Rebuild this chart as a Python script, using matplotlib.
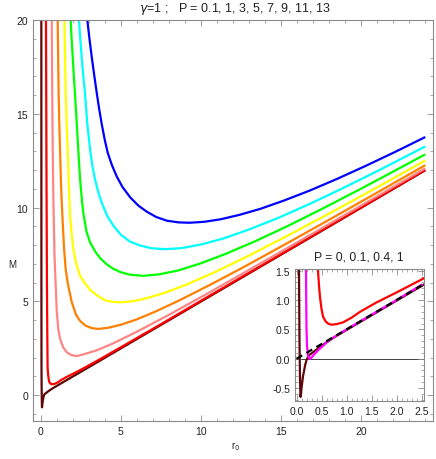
import matplotlib
matplotlib.use("Agg")
import matplotlib.pyplot as plt
from matplotlib.ticker import MultipleLocator, FormatStrFormatter

plt.rcParams['font.family'] = ['Liberation Sans', 'DejaVu Sans']
plt.rcParams['font.size'] = 7.5

# curves, M(r0) for each P
r_p01 = [0.035, 0.04, 0.045, 0.05, 0.06, 0.07, 0.08, 0.09, 0.1, 0.13, 0.17, 0.2, 0.25, 0.33, 0.45, 0.6, 0.8, 1.0, 1.5, 2.0, 2.5, 5.0, 10.0, 24.0]
m_p01 = [30, 20, 5.0, 1.5, 0.3, -0.35, -0.65, -0.6, -0.5, -0.3, -0.12, -0.02, 0.06, 0.11, 0.19, 0.28, 0.39, 0.49, 0.74, 0.99, 1.24, 2.49, 4.99, 11.99]

r_p1 = [0.3, 0.33, 0.36, 0.39, 0.41, 0.43, 0.45, 0.47, 0.5, 0.53, 0.58, 0.63, 0.7, 0.8, 0.93, 1.1, 1.27, 1.6, 2.0, 2.5, 3.5, 5.0, 7.5, 10.0, 14.0, 18.0, 24.0]
m_p1 = [30, 20, 12, 6.0, 3.5, 1.5, 1.25, 1.05, 0.85, 0.72, 0.64, 0.6, 0.58, 0.59, 0.62, 0.7, 0.8, 0.96, 1.13, 1.35, 1.82, 2.55, 3.78, 5.03, 7.02, 9.01, 12.01]

r_p3 = [0.65, 0.69, 0.72, 0.75, 0.8, 0.86, 0.92, 1.0, 1.1, 1.21, 1.4, 1.63, 1.9, 2.25, 2.7, 3.5, 4.5, 6.0, 8.0, 10.5, 13.5, 17.0, 20.5, 24.0]
m_p3 = [22, 20.0, 16.0, 13.0, 10.0, 7.5, 6.2, 4.5, 3.5, 3.0, 2.55, 2.28, 2.14, 2.08, 2.18, 2.39, 2.75, 3.38, 4.28, 5.46, 6.92, 8.63, 10.36, 12.09]

r_p5 = [1.0, 1.06, 1.09, 1.12, 1.16, 1.21, 1.27, 1.35, 1.46, 1.56, 1.7, 1.94, 2.2, 2.46, 2.8, 3.2, 3.6, 4.2, 5.0, 6.0, 7.2, 8.6, 10.5, 12.5, 15.0, 18.0, 21.0, 24.0]
m_p5 = [22, 20.0, 18.0, 16.05, 14.5, 13.0, 11.2, 9.6, 7.8, 6.7, 5.9, 4.95, 4.3, 3.95, 3.7, 3.57, 3.53, 3.59, 3.75, 4.04, 4.47, 5.03, 5.85, 6.75, 7.92, 9.35, 10.8, 12.26]

r_p7 = [1.4, 1.48, 1.52, 1.56, 1.62, 1.69, 1.75, 1.83, 1.93, 2.04, 2.2, 2.46, 2.77, 3.1, 3.5, 4.0, 4.5, 5.0, 5.7, 6.6, 7.8, 9.2, 11.0, 13.0, 15.5, 18.0, 21.0, 24.0]
m_p7 = [22, 20.0, 18.0, 16.05, 14.5, 13.0, 11.3, 9.6, 8.6, 7.8, 7.05, 6.35, 5.95, 5.6, 5.33, 5.06, 4.97, 4.95, 5.0, 5.16, 5.47, 5.93, 6.61, 7.44, 8.54, 9.68, 11.08, 12.51]

r_p9 = [1.75, 1.87, 1.93, 2.0, 2.07, 2.14, 2.25, 2.35, 2.46, 2.56, 2.66, 2.85, 3.08, 3.4, 3.71, 4.1, 4.54, 5.0, 5.58, 6.4, 7.4, 8.6, 10.0, 11.6, 13.4, 15.4, 17.6, 20.0, 22.0, 24.0]
m_p9 = [22, 20.0, 19.0, 18.0, 17.0, 16.05, 14.5, 13.0, 11.5, 10.5, 9.7, 8.75, 8.14, 7.66, 7.3, 6.99, 6.73, 6.55, 6.42, 6.36, 6.44, 6.65, 7.03, 7.55, 8.21, 9.01, 9.95, 11.01, 11.92, 12.84]

r_p11 = [2.25, 2.39, 2.47, 2.56, 2.66, 2.77, 2.91, 3.08, 3.22, 3.39, 3.6, 3.81, 4.15, 4.54, 5.0, 5.58, 6.2, 6.9, 7.8, 8.8, 10.0, 11.4, 13.0, 14.8, 16.8, 18.8, 21.0, 24.0]
m_p11 = [22, 20.0, 19.0, 18.0, 17.0, 16.05, 14.45, 13.1, 12.25, 11.5, 10.8, 10.25, 9.55, 9.03, 8.55, 8.18, 7.98, 7.83, 7.78, 7.84, 8.03, 8.35, 8.83, 9.44, 10.2, 11.01, 11.94, 13.26]

r_p13 = [2.75, 2.91, 3.05, 3.19, 3.35, 3.5, 3.65, 3.81, 4.0, 4.19, 4.45, 4.75, 5.1, 5.58, 6.1, 6.62, 7.2, 7.87, 8.6, 9.3, 10.2, 11.2, 12.4, 13.7, 15.2, 16.8, 18.5, 20.3, 22.1, 24.0]
m_p13 = [22, 20.0, 18.95, 18.0, 17.0, 16.1, 15.25, 14.45, 13.6, 12.9, 12.25, 11.65, 11.1, 10.55, 10.1, 9.78, 9.5, 9.3, 9.21, 9.19, 9.24, 9.37, 9.61, 9.93, 10.38, 10.91, 11.53, 12.23, 12.96, 13.76]

# inset only
r_p04 = [0.185, 0.19, 0.195, 0.2, 0.21, 0.23, 0.25, 0.27, 0.3, 0.37, 0.45, 0.53, 0.6, 0.7, 1.0, 1.5, 2.0, 2.5]
m_p04 = [3.0, 1.5, 0.9, 0.5, 0.22, 0.06, 0.01, 0.0, 0.02, 0.09, 0.16, 0.22, 0.28, 0.34, 0.5, 0.75, 1.0, 1.26]
r_p0 = [0.0, 0.5, 1.0, 1.5, 2.0, 2.5]
m_p0 = [0.0, 0.25, 0.5, 0.75, 1.0, 1.25]

main_curves = [(r_p01, m_p01, '#5c0606'), (r_p1, m_p1, '#ff0000'), (r_p3, m_p3, '#ff8585'),
               (r_p5, m_p5, '#ff8000'), (r_p7, m_p7, '#ffff00'), (r_p9, m_p9, '#00ff00'),
               (r_p11, m_p11, '#00ffff'), (r_p13, m_p13, '#0000ff')]

fig = plt.figure(figsize=(4.36, 4.60), dpi=100)
ax = fig.add_axes([33/436, 38/460, 400/436, 401/460])
for r, m, c in main_curves:
    ax.plot(r, m, color=c, lw=1.6, solid_capstyle='butt')
ax.set_xlim(-0.48, 24.48)
ax.set_ylim(-1.38, 20)

def style(a):
    for s in a.spines.values():
        s.set_color('#8a8a8a'); s.set_linewidth(0.8)
    a.tick_params(which='both', direction='in', top=True, right=True, colors='#8a8a8a', labelcolor='#222222', labelsize=7.5)
    a.tick_params(which='major', length=4, width=0.6)
    a.tick_params(which='minor', length=2.2, width=0.5)

style(ax)
ax.xaxis.set_major_locator(MultipleLocator(5)); ax.xaxis.set_minor_locator(MultipleLocator(1))
ax.yaxis.set_major_locator(MultipleLocator(5)); ax.yaxis.set_minor_locator(MultipleLocator(1))

fig.text(234.5/436, 1 - 9/460, r'$\gamma$=1 ;   P = 0.1, 1, 3, 5, 7, 9, 11, 13', ha='center', va='center', fontsize=9, color='#222222')
fig.text(12/436, 1 - 265/460, 'M', ha='center', va='center', fontsize=7, color='#222222')
fig.text(236/436, 1 - 447/460, r'r$_0$', ha='center', va='center', fontsize=7, color='#222222')

# inset
ia = fig.add_axes([295/436, 58/460, 129/436, 132/460])
ia.axhline(0, color='#444444', lw=0.7, zorder=1)
ia.plot(r_p01, m_p01, color='#5c0606', lw=1.6, zorder=2)
ia.plot(r_p04, m_p04, color='#ff00ff', lw=1.6, zorder=2)
ia.plot(r_p1, m_p1, color='#ff0000', lw=1.6, zorder=2)
ia.plot(r_p0, m_p0, color='black', lw=1.6, ls=(0, (3, 2.2)), zorder=3)
ia.set_xlim(-0.03, 2.55)
ia.set_ylim(-0.72, 1.53)
style(ia)
ia.xaxis.set_major_locator(MultipleLocator(0.5)); ia.xaxis.set_minor_locator(MultipleLocator(0.1))
ia.yaxis.set_major_locator(MultipleLocator(0.5)); ia.yaxis.set_minor_locator(MultipleLocator(0.1))
ia.xaxis.set_major_formatter(FormatStrFormatter('%.1f'))
ia.yaxis.set_major_formatter(FormatStrFormatter('%.1f'))
fig.text(359/436, 1 - 258/460, 'P = 0, 0.1, 0.4, 1', ha='center', va='center', fontsize=8.7, color='#222222')

fig.savefig('out.png', dpi=100)
